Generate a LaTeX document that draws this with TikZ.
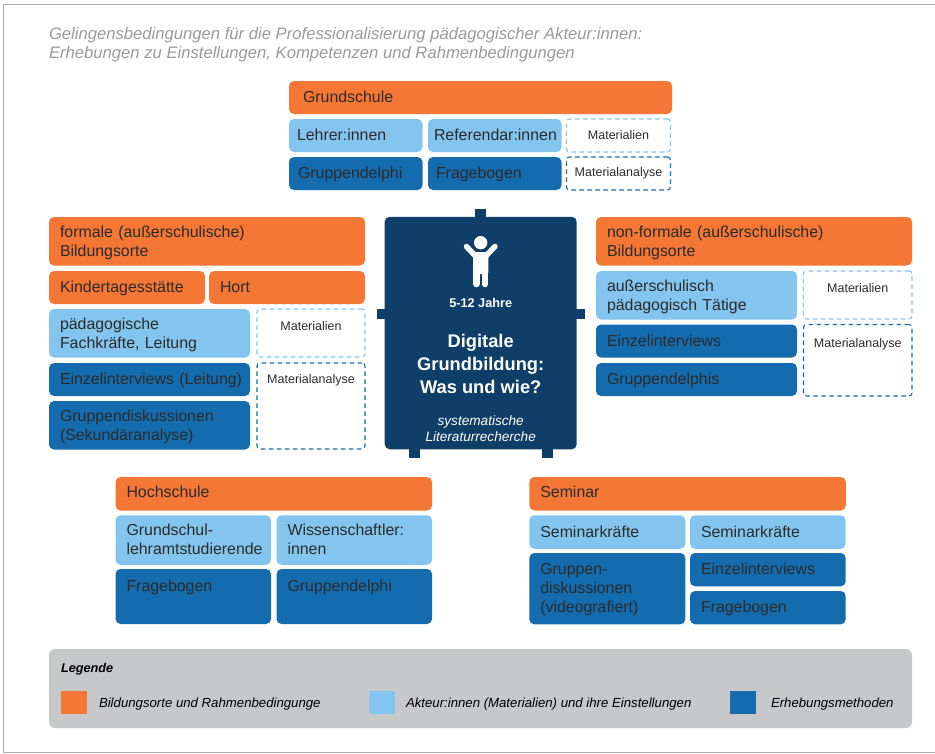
\documentclass[tikz,border=0pt]{standalone}
\usepackage{fontspec}
\setmainfont{Liberation Sans}
\definecolor{ortcol}{HTML}{F47735}
\definecolor{aktcol}{HTML}{83C5EE}
\definecolor{metcol}{HTML}{146BAD}
\definecolor{navycol}{HTML}{0F3F68}
\definecolor{legcol}{HTML}{C6C8CA}
\definecolor{inkcol}{HTML}{2B2B2B}
\definecolor{titlecol}{HTML}{9A9A9A}
\newcommand{\bodyfont}{\fontsize{15.9}{19}\selectfont}
\newcommand{\cellstrut}{\rule[-4.2pt]{0pt}{19pt}}

\begin{document}
\begin{tikzpicture}[x=1pt,y=-1pt,every node/.style={anchor=north west,inner sep=0,outer sep=0},
  cell/.style n args={3}{inner xsep=#3,text width=#1pt-2*#3pt,minimum height=#2,align=left,rounded corners=5,
    font=\bodyfont,text=inkcol,execute at begin node=\cellstrut,execute at end node=\cellstrut},
  ortbox/.style={cell={#1},fill=ortcol},
  aktbox/.style={cell={#1},fill=aktcol},
  metbox/.style={cell={#1},fill=metcol},
  topbox/.style 2 args={text height=#1,text depth=#2,execute at begin node=,execute at end node=},
  matbox/.style={inner xsep=0,text width=#1,align=center,rounded corners=3,line width=1.1,dash pattern=on 4.5pt off 3.5pt,
    font=\fontsize{12.5}{15}\selectfont,text=inkcol},
  legtext/.style={anchor=west,font=\fontsize{13.2}{15}\selectfont\itshape,text=black},
  legsquare/.style={minimum width=26,minimum height=23}]
\useasboundingbox (0,0) rectangle (935,753);
\draw[black!33,line width=1] (935,4)--(3.5,4)--(3.5,752)--(935,752);

\node[font=\fontsize{16.65}{19}\selectfont\itshape,text=titlecol,align=left] (title) at (49,27) {Gelingensbedingungen für die Professionalisierung pädagogischer Akteur:innen:\\Erhebungen zu Einstellungen, Kompetenzen und Rahmenbedingungen};

\node[ortbox={383}{33}{14}] (gs) at (289,81) {Grundschule};
\node[aktbox={133.5}{33}{8}] (gsa) at (289,119) {Lehrer:innen};
\node[aktbox={133.5}{33}{6}] (gsb) at (428,119) {Referendar:innen};
\node[matbox=104,minimum height=33,draw=aktcol] (gsc) at (566.5,119) {Materialien};
\node[metbox={133.5}{33}{9}] (gsd) at (289,157) {Gruppendelphi};
\node[metbox={133.5}{33}{8}] (gse) at (428,157) {Fragebogen};
\node[matbox=104,minimum height=33,draw=metcol] (gsf) at (566.5,157) {Materialanalyse};

\node[ortbox={316}{48.5}{11}] (fo) at (49,217) {formale (außerschulische)\\Bildungsorte};
\node[ortbox={156}{33}{11}] (foa) at (49,271) {Kindertagesstätte};
\node[ortbox={156}{33}{11}] (fob) at (209,271) {Hort};
\node[aktbox={201}{48.5}{11}] (foc) at (49,309) {pädagogische\\Fachkräfte, Leitung};
\node[matbox=108,topbox={21}{27},draw=aktcol] (fod) at (257,309) {Materialien};
\node[metbox={201}{33}{11}] (foe) at (49,363) {\mbox{Einzelinterviews (Leitung)}};
\node[metbox={201}{48.5}{11}] (fof) at (49,401) {Gruppendiskussionen\\(Sekundäranalyse)};
\node[matbox=108,topbox={20}{66},draw=metcol] (fog) at (257,363) {Materialanalyse};

\fill[navycol] (475.3,208.7) rectangle (486,220);
\fill[navycol] (376.7,308.7) rectangle (388,319.3);
\fill[navycol] (573,308.7) rectangle (585,319.3);
\fill[navycol] (409,445) rectangle (419.7,457.7);
\fill[navycol] (542,445) rectangle (552.7,457.7);
\node[minimum width=192,minimum height=232.5,fill=navycol,rounded corners=5] (kern) at (384.7,216.8) {};
\fill[white] (480.7,242.7) circle[radius=6.7pt];
\draw[white,line width=5.5,line cap=round] (466.5,246.5)--(475,255.5)--(486.4,255.5)--(494.9,246.5);
\fill[white,rounded corners=2] (473,252)--(488.4,252)--(488.4,274)--(473,274)--cycle;
\draw[white,line width=6.6,line cap=round] (476.2,270)--(476.2,284);
\draw[white,line width=6.6,line cap=round] (484.9,270)--(484.9,284);
\node[anchor=center,font=\fontsize{12.7}{15}\selectfont\bfseries,text=white] (alter) at (480.7,303) {5-12 Jahre};
\node[anchor=center,font=\fontsize{18.3}{23}\selectfont\bfseries,text=white,align=center] (thema) at (480.7,363.5) {Digitale\\Grundbildung:\\Was und wie?};
\node[anchor=center,font=\fontsize{13.6}{16}\selectfont\itshape,text=white,align=center] (quelle) at (480.7,429) {systematische\\Literaturrecherche};

\node[ortbox={316}{48.5}{11}] (nf) at (596,217) {non-formale (außerschulische)\\Bildungsorte};
\node[aktbox={201}{48.5}{11}] (nfa) at (596,271) {außerschulisch\\pädagogisch Tätige};
\node[matbox=108.5,topbox={21}{27},draw=aktcol] (nfb) at (803.5,271) {Materialien};
\node[metbox={201}{33}{11}] (nfc) at (596,324.5) {Einzelinterviews};
\node[metbox={201}{33}{11}] (nfd) at (596,363) {Gruppendelphis};
\node[matbox=108.5,topbox={23}{48.5},draw=metcol] (nfe) at (803.5,324.5) {Materialanalyse};

\node[ortbox={316.5}{33.5}{11},topbox={20.4}{13.1}] (hs) at (115.5,477) {Hochschule};
\node[aktbox={155.5}{49.5}{11}] (hsa) at (115.5,515.3) {Grundschul-\\lehramtstudierende};
\node[aktbox={155.5}{49.5}{11}] (hsb) at (276.5,515.3) {Wissenschaftler:\\innen};
\node[metbox={155.5}{55}{11},topbox={22.5}{32.5}] (hsc) at (115.5,569) {Fragebogen};
\node[metbox={155.5}{55}{11},topbox={22.5}{32.5}] (hsd) at (276.5,569) {Gruppendelphi};

\node[ortbox={316.5}{33.5}{11},topbox={20.4}{13.1}] (se) at (529.3,477) {Seminar};
\node[aktbox={156}{33.5}{11}] (sea) at (529.3,515.3) {Seminarkräfte};
\node[aktbox={155.7}{33.5}{11}] (seb) at (690,515.3) {Seminarkräfte};
\node[metbox={156}{71.3}{11}] (sec) at (529.3,553) {Gruppen-\\diskussionen\\(videografiert)};
\node[metbox={155.7}{33.3}{11}] (sed) at (690,553) {Einzelinterviews};
\node[metbox={155.7}{33.3}{11}] (see) at (690,591) {Fragebogen};

\node[minimum width=863,minimum height=79,fill=legcol,rounded corners=6] (leg) at (49,649) {};
\node[anchor=west,font=\fontsize{12.7}{15}\selectfont\bfseries\itshape,text=black] (lega) at (61,669.5) {Legende};
\node[legsquare,fill=ortcol] (legb) at (61,691) {};
\node[legtext] (legc) at (99,704) {Bildungsorte und Rahmenbedingunge};
\node[legsquare,fill=aktcol] (legd) at (369,691) {};
\node[legtext] (lege) at (406,704) {Akteur:innen (Materialien) und ihre Einstellungen};
\node[legsquare,fill=metcol] (legf) at (730,691) {};
\node[legtext] (legg) at (771,704) {Erhebungsmethoden};
\end{tikzpicture}
\end{document}
